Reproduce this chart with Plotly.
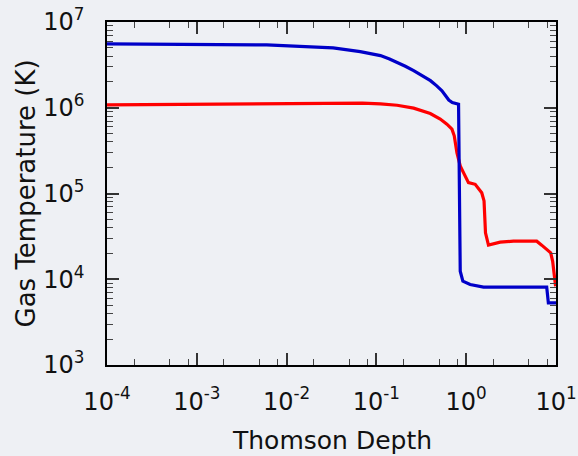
import plotly.graph_objects as go

# Blue series (Thomson depth, gas temperature K)
blue_tau = [1e-4, 0.006, 0.014, 0.033, 0.066, 0.09, 0.111, 0.14, 0.17, 0.21, 0.26, 0.32, 0.4, 0.47, 0.537, 0.64,
            0.70, 0.822, 0.858, 0.918, 1.107, 1.56, 7.88, 8.22, 10.0]
blue_T = [5.56e6, 5.41e6, 5.21e6, 4.99e6, 4.52e6, 4.25e6, 4.06e6, 3.7e6, 3.39e6, 3.05e6, 2.71e6, 2.4e6, 2.07e6,
          1.8e6, 1.58e6, 1.23e6, 1.15e6, 1.1e6, 1.24e4, 9.5e3, 8.67e3, 8.1e3, 8.1e3, 5.3e3, 5.3e3]

# Red series
red_tau = [1e-4, 1e-3, 0.01, 0.03, 0.07, 0.111, 0.17, 0.26, 0.398, 0.514, 0.61, 0.694, 0.736, 0.788, 0.858, 0.933,
           1.06, 1.26, 1.49, 1.58, 1.64, 1.77, 2.39, 3.36, 6.1, 6.93, 7.87, 8.73, 9.18, 9.9]
red_T = [1.08e6, 1.1e6, 1.12e6, 1.13e6, 1.13e6, 1.11e6, 1.07e6, 9.9e5, 8.57e5, 7.38e5, 6.44e5, 5.63e5, 4.71e5, 3.0e5,
         2.1e5, 1.75e5, 1.34e5, 1.28e5, 1.02e5, 8.2e4, 3.48e4, 2.5e4, 2.71e4, 2.78e4, 2.78e4, 2.5e4, 2.26e4, 2.03e4,
         1.62e4, 8.3e3]

x_tickvals = [1e-4, 1e-3, 1e-2, 1e-1, 1e0, 1e1]
x_ticktext = ["10<sup>-4</sup>", "10<sup>-3</sup>", "10<sup>-2</sup>", "10<sup>-1</sup>", "10<sup>0</sup>", "10<sup>1</sup>"]
y_tickvals = [1e3, 1e4, 1e5, 1e6, 1e7]
y_ticktext = ["10<sup>3</sup>", "10<sup>4</sup>", "10<sup>5</sup>", "10<sup>6</sup>", "10<sup>7</sup>"]

x_minor = [m * d for d in [1e-4, 1e-3, 1e-2, 1e-1, 1e0] for m in (2, 5, 8)]
y_minor = [m * d for d in [1e3, 1e4, 1e5, 1e6] for m in range(2, 10)]

x_title = "Thomson Depth"
y_title = "Gas Temperature (K)"

BG = "#eef0f4"
FONT = "DejaVu Sans"
fig = go.Figure()
fig.add_trace(go.Scatter(x=red_tau, y=red_T, mode="lines", line=dict(color="#ff0000", width=3.2)))
fig.add_trace(go.Scatter(x=blue_tau, y=blue_T, mode="lines", line=dict(color="#0000c8", width=3.2)))

axis_common = dict(
    showgrid=False, zeroline=False, showline=True, linecolor="#000", linewidth=1.5,
    ticks="inside", ticklen=12, tickwidth=1.5, tickcolor="#333", mirror="allticks",
    tickfont=dict(family=FONT, size=24, color="#111"), automargin=False,
)
fig.update_xaxes(type="log", range=[-4, 1], tickmode="array", tickvals=x_tickvals, ticktext=x_ticktext,
                 minor=dict(tickvals=x_minor, ticks="inside", ticklen=6, tickwidth=1.2, tickcolor="#444"),
                 ticklabelstandoff=14, **axis_common)
fig.update_yaxes(type="log", range=[3, 7], tickmode="array", tickvals=y_tickvals, ticktext=y_ticktext,
                 minor=dict(tickvals=y_minor, ticks="inside", ticklen=6, tickwidth=1.2, tickcolor="#444"),
                 ticklabelstandoff=16, **axis_common)
fig.add_annotation(text=x_title, xref="paper", yref="paper", x=0.5, y=0, xanchor="center", yanchor="middle",
                   yshift=-75, showarrow=False, font=dict(family=FONT, size=25, color="#111"))
fig.add_annotation(text=y_title, xref="paper", yref="paper", x=0, y=0.5, xanchor="center", yanchor="middle",
                   xshift=-82, textangle=-90, showarrow=False, font=dict(family=FONT, size=26, color="#111"))
fig.update_layout(
    width=578, height=456, showlegend=False,
    margin=dict(l=107, r=22, t=22, b=91),
    paper_bgcolor=BG, plot_bgcolor=BG,
)
fig.write_html("out.html")
